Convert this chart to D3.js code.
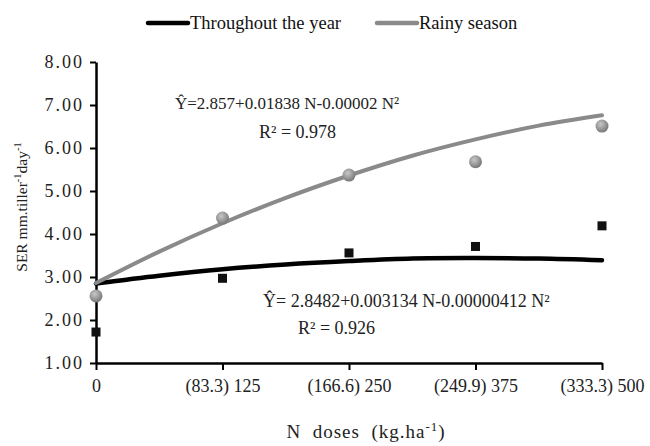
<!DOCTYPE html>
<html>
<head>
<meta charset="utf-8">
<script src="https://cdn.jsdelivr.net/npm/d3@7"></script>
<style>
	body { margin: 0; background: #fff; }
	svg text { font-family: "Liberation Serif", "DejaVu Serif", serif; }
</style>
</head>
<body>
<div id="chart"></div>
<script>
'use strict';

// N doses (kg/ha) and tick labels
const doses = [0, 125, 250, 375, 500];
const dose_labels = ["0", "(83.3) 125", "(166.6) 250", "(249.9) 375", "(333.3) 500"];
const y_ticks = [1, 2, 3, 4, 5, 6, 7, 8];

// observed means
const rainy_obs = [2.56, 4.37, 5.37, 5.68, 6.51];
const year_obs = [1.72, 2.97, 3.56, 3.71, 4.19];

// fitted curves
const curve_doses = [0, 62.5, 125, 187.5, 250, 312.5, 375, 437.5, 500];
const rainy_fit = [2.86, 3.59, 4.25, 4.84, 5.36, 5.82, 6.20, 6.52, 6.76];
const year_fit = [2.85, 3.03, 3.18, 3.29, 3.37, 3.43, 3.44, 3.43, 3.39];

const width = 650, height = 446;
const margin = { top: 62, right: 48, bottom: 83, left: 96 };

const svg = d3.select("#chart").append("svg")
	.attr("width", width)
	.attr("height", height)
	.attr("font-family", "Liberation Serif, serif");

const defs = svg.append("defs");
const grad = defs.append("radialGradient")
	.attr("id", "ball")
	.attr("cx", "40%").attr("cy", "35%").attr("r", "65%");
grad.append("stop").attr("offset", "0%").attr("stop-color", "#c8c8c8");
grad.append("stop").attr("offset", "100%").attr("stop-color", "#777");

const x = d3.scaleLinear()
	.domain([0, 500])
	.range([margin.left, width - margin.right]);

const y = d3.scaleLinear()
	.domain([1, 8])
	.range([height - margin.bottom, margin.top]);

// axes
const xAxis = g => g
	.attr("transform", `translate(0,${y(1)})`)
	.call(d3.axisBottom(x).tickValues(doses).tickFormat((d, i) => dose_labels[i]).tickSize(7).tickSizeOuter(0).tickPadding(9))
	.attr("font-family", null)
	.attr("font-size", 18)
	.call(g => g.select(".domain").attr("stroke-width", 2.5))
	.call(g => g.selectAll(".tick line").attr("stroke-width", 2))
	.call(g => g.selectAll("text").attr("fill", "#222"));

const yAxis = g => g
	.attr("transform", `translate(${x(0)},0)`)
	.call(d3.axisLeft(y).tickValues(y_ticks).tickFormat(d3.format(".2f")).tickSize(6).tickSizeOuter(0).tickPadding(6))
	.attr("font-family", null)
	.attr("font-size", 18)
	.call(g => g.select(".domain").attr("stroke-width", 2.5))
	.call(g => g.selectAll(".tick line").attr("stroke-width", 2))
	.call(g => g.selectAll("text").attr("letter-spacing", 2).attr("fill", "#222"));

svg.append("g").attr("class", "x-axis").call(xAxis);
svg.append("g").attr("class", "y-axis").call(yAxis);

// fitted curves
const line = d3.line()
	.x(d => x(d[0]))
	.y(d => y(d[1]))
	.curve(d3.curveCatmullRom);

svg.append("path")
	.datum(curve_doses.map((d, i) => [d, year_fit[i]]))
	.attr("fill", "none")
	.attr("stroke", "#000")
	.attr("stroke-width", 4.5)
	.attr("stroke-linecap", "round")
	.attr("d", line);

svg.append("path")
	.datum(curve_doses.map((d, i) => [d, rainy_fit[i]]))
	.attr("fill", "none")
	.attr("stroke", "#8a8a8a")
	.attr("stroke-width", 4)
	.attr("stroke-linecap", "round")
	.attr("d", line);

// observed points
svg.append("g")
	.selectAll("rect")
	.data(year_obs)
	.join("rect")
		.attr("x", (d, i) => x(doses[i]) - 4.5)
		.attr("y", d => y(d) - 4.5)
		.attr("width", 9)
		.attr("height", 9)
		.attr("fill", "#111");

svg.append("g")
	.selectAll("circle")
	.data(rainy_obs)
	.join("circle")
		.attr("cx", (d, i) => x(doses[i]))
		.attr("cy", d => y(d))
		.attr("r", 6.5)
		.attr("fill", "url(#ball)");

// equations
const eq = svg.append("g").attr("fill", "#222");

eq.append("text").attr("x", 175).attr("y", 109).attr("font-size", 17)
	.text("Ŷ=2.857+0.01838 N-0.00002 N²");
eq.append("text").attr("x", 259).attr("y", 138).attr("font-size", 18)
	.text("R² = 0.978");

eq.append("text").attr("x", 263).attr("y", 307).attr("font-size", 18)
	.text("Ŷ= 2.8482+0.003134 N-0.00000412 N²");
eq.append("text").attr("x", 298).attr("y", 334).attr("font-size", 18)
	.text("R² = 0.926");

// axis titles
const xt = svg.append("text")
	.attr("x", 366).attr("y", 438)
	.attr("text-anchor", "middle")
	.attr("font-size", 19)
	.attr("letter-spacing", 1)
	.attr("fill", "#222")
	.style("white-space", "pre");
xt.append("tspan").text("N  doses  (kg.ha");
xt.append("tspan").attr("font-size", 13).attr("dy", -7).text("-1");
xt.append("tspan").attr("dy", 7).text(")");

const yt = svg.append("text")
	.attr("transform", "translate(27,207) rotate(-90)")
	.attr("text-anchor", "middle")
	.attr("font-size", 15.5)
	.attr("fill", "#222");
yt.append("tspan").text("SER mm.tiller");
yt.append("tspan").attr("font-size", 10.5).attr("dy", -6).text("-1");
yt.append("tspan").attr("dy", 6).text("day");
yt.append("tspan").attr("font-size", 10.5).attr("dy", -6).text("-1");

// legend
const legend = svg.append("g").attr("font-size", 18.5).attr("fill", "#111");
const legend_items = [
	{ label: "Throughout the year", color: "#000", x0: 148 },
	{ label: "Rainy season", color: "#8a8a8a", x0: 377 }
];
legend_items.forEach(item => {
	legend.append("line")
		.attr("x1", item.x0).attr("x2", item.x0 + 40)
		.attr("y1", 23).attr("y2", 23)
		.attr("stroke", item.color)
		.attr("stroke-width", 4.5)
		.attr("stroke-linecap", "round");
	legend.append("text")
		.attr("x", item.x0 + 42).attr("y", 29)
		.text(item.label);
});
</script>
</body>
</html>
